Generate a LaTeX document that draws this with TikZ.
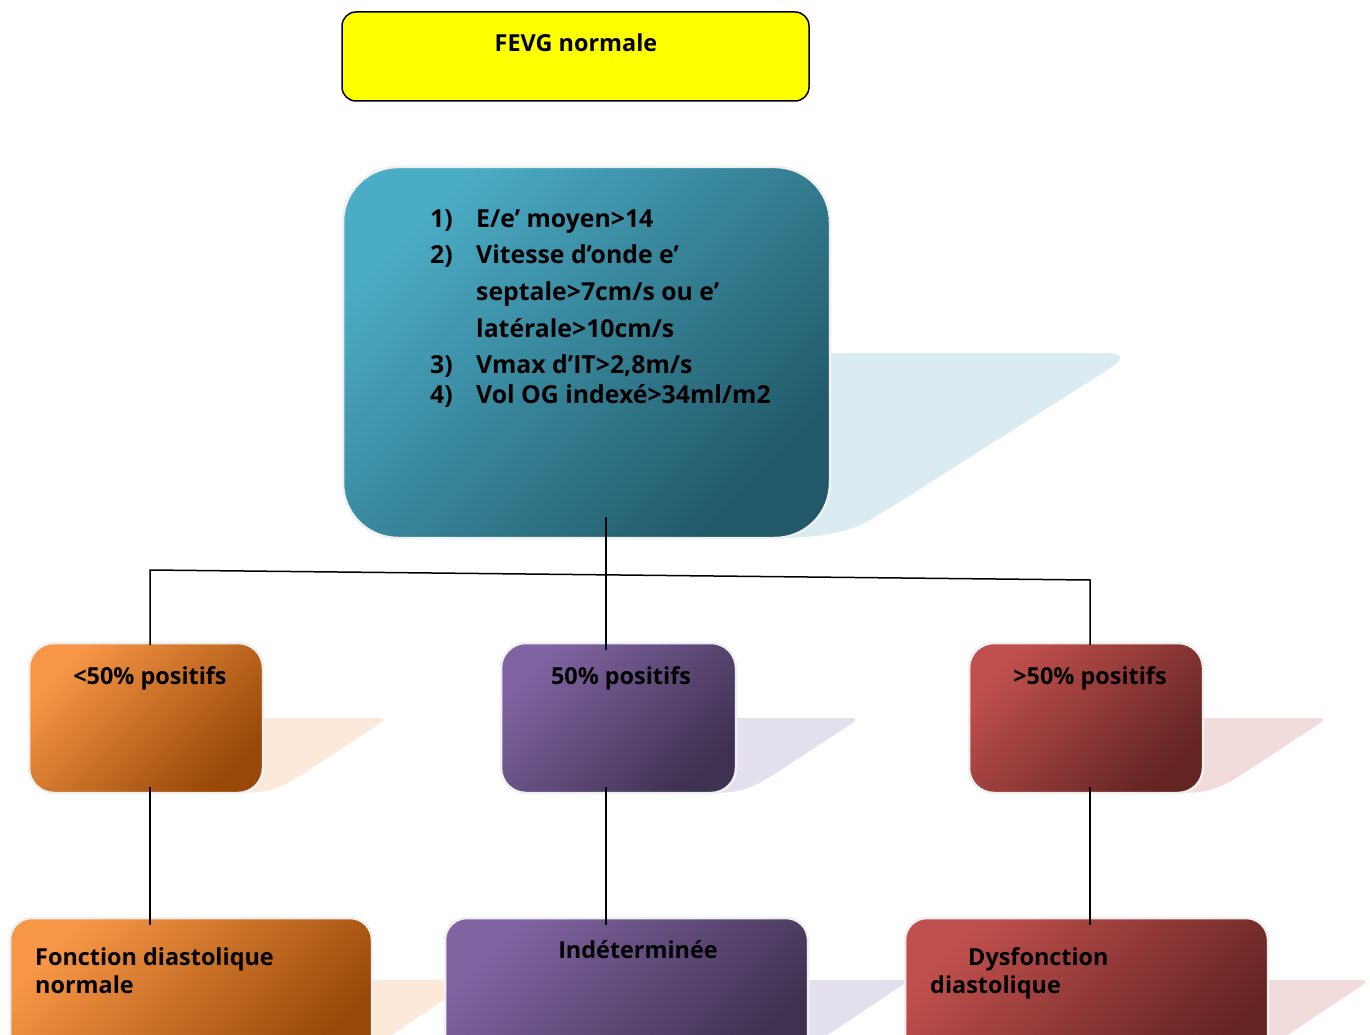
\documentclass[tikz,border=0pt]{standalone}
\usepackage{fontspec}
\setmainfont{Open Sans}
\definecolor{tealL}{RGB}{75,172,198}
\definecolor{tealD}{RGB}{33,89,104}
\definecolor{orL}{RGB}{247,150,70}
\definecolor{orD}{RGB}{152,72,7}
\definecolor{puL}{RGB}{128,100,162}
\definecolor{puD}{RGB}{63,49,81}
\definecolor{reL}{RGB}{192,80,77}
\definecolor{reD}{RGB}{99,36,35}
\definecolor{tealS}{RGB}{218,236,242}
\definecolor{orS}{RGB}{252,233,218}
\definecolor{puS}{RGB}{228,223,236}
\definecolor{reS}{RGB}{242,220,219}
\definecolor{fevg}{RGB}{255,255,0}
\begin{document}
\begin{tikzpicture}[x=1pt,y=-1pt,
  gbox/.style n args={3}{rectangle, rounded corners=#3, top color=#1, bottom color=#2,
     shading angle=45, draw=gray!12, line width=2.5pt, inner sep=0pt},
  lbl/.style={font=\fontsize{23.4}{28}\selectfont\bfseries, inner sep=0pt, text=black},
  crit/.style={font=\fontsize{24.8}{30}\selectfont\bfseries, inner sep=0pt, anchor=base west, text=black},
  conn/.style={draw=black, line width=1.5pt}]
\useasboundingbox (0,0) rectangle (1370,1035);
\clip (0,0) rectangle (1370,1035);
% shadows
\fill[tealS] (800,353) {[rounded corners=26] -- (1134,353) -- (890,508)}
   .. controls (850,532) and (815,538) .. (780,538) -- cycle;
\foreach \dx/\c in {0/orS,472/puS,940/reS}{
  \fill[\c] ({250+\dx},718) {[rounded corners=9] -- ({388+\dx},718) -- ({298+\dx},777)}
     .. controls ({275+\dx},790) and ({262+\dx},793) .. ({240+\dx},793) -- cycle;
}
\foreach \r/\c in {372/orS,808/puS,1268/reS}{
  \fill[\c] ({\r-10},980) {[rounded corners=9] -- ({\r+102},980) -- ({\r+12},1040)} -- ({\r-10},1040) -- cycle;
}
% boxes
\node[rectangle, rounded corners=14, fill=fevg, draw=black, line width=1.5pt,
      minimum width=467pt, minimum height=89pt] (fevg) at (575.5,56.5) {};
\node[gbox={tealL}{tealD}{55}, minimum width=487pt, minimum height=371pt] (crit) at (586.5,352.5) {};
\node[gbox={orL}{orD}{25}, minimum width=234pt, minimum height=150pt] (lo) at (146,718) {};
\node[gbox={puL}{puD}{25}, minimum width=235pt, minimum height=150pt] (mid) at (618.5,718) {};
\node[gbox={reL}{reD}{25}, minimum width=234pt, minimum height=150pt] (hi) at (1086,718) {};
\node[gbox={orL}{orD}{22}, minimum width=362pt, minimum height=150pt] (norm) at (191,993) {};
\node[gbox={puL}{puD}{22}, minimum width=363pt, minimum height=150pt] (ind) at (626.5,993) {};
\node[gbox={reL}{reD}{22}, minimum width=363pt, minimum height=150pt] (dys) at (1086.5,993) {};
% connectors
\coordinate (cA) at (606,517);
\coordinate (cB) at (606,650);
\coordinate (hL0) at (150,645);
\coordinate (hL) at (150,570);
\coordinate (hR) at (1090,580);
\coordinate (hR0) at (1090,645);
\coordinate (l1) at (150,787); \coordinate (l2) at (150,925);
\coordinate (m1) at (606,787); \coordinate (m2) at (606,925);
\coordinate (r1) at (1090,787); \coordinate (r2) at (1090,925);
\draw[conn] (cA) -- (cB);
\draw[conn] (hL0) -- (hL) -- (hR) -- (hR0);
\draw[conn] (l1) -- (l2);
\draw[conn] (m1) -- (m2);
\draw[conn] (r1) -- (r2);
% texts
\node[lbl, anchor=base] (tfevg) at (576,52) {FEVG normale};
\node[crit] (n1) at (430,227) {1)};
\node[crit] (c1) at (476,227) {E/e’ moyen>14};
\node[crit] (n2) at (430,263) {2)};
\node[crit] (c2) at (476,263) {Vitesse d’onde e’};
\node[crit] (c2b) at (476,300) {septale>7cm/s ou e’};
\node[crit] (c2c) at (476,337) {latérale>10cm/s};
\node[crit] (n3) at (430,373) {3)};
\node[crit] (c3) at (476,373) {Vmax d’IT>2,8m/s};
\node[crit] (n4) at (430,403) {4)};
\node[crit] (c4) at (476,403) {Vol OG indexé>34ml/m2};
\node[lbl, anchor=base] (tlo) at (150,684) {<50\% positifs};
\node[lbl, anchor=base] (tmid) at (621,684) {50\% positifs};
\node[lbl, anchor=base] (thi) at (1090,684) {>50\% positifs};
\node[lbl, anchor=base west] (tn1) at (35,965) {Fonction diastolique};
\node[lbl, anchor=base west] (tn2) at (35,993) {normale};
\node[lbl, anchor=base] (tind) at (638,958) {Indéterminée};
\node[lbl, anchor=base west] (td1) at (968,965) {Dysfonction};
\node[lbl, anchor=base west] (td2) at (930,993) {diastolique};
\end{tikzpicture}
\end{document}
